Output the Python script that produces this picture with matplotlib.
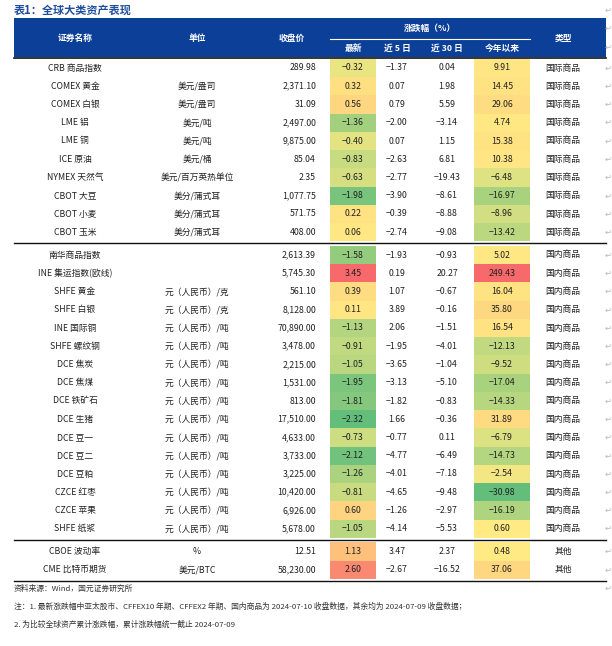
import numpy as np
import matplotlib.pyplot as plt
from matplotlib.colors import LinearSegmentedColormap, TwoSlopeNorm
from matplotlib.patches import Rectangle

plt.rcParams['font.family'] = ['Noto Sans CJK SC', 'DejaVu Sans']

title = "表1：全球大类资产表现"
names = ["CRB 商品指数", "COMEX 黄金", "COMEX 白银", "LME 铝", "LME 铜", "ICE 原油",
         "NYMEX 天然气", "CBOT 大豆", "CBOT 小麦", "CBOT 玉米",
         "南华商品指数", "INE 集运指数(欧线)", "SHFE 黄金", "SHFE 白银", "INE 国际铜",
         "SHFE 螺纹钢", "DCE 焦炭", "DCE 焦煤", "DCE 铁矿石", "DCE 生猪", "DCE 豆一",
         "DCE 豆二", "DCE 豆粕", "CZCE 红枣", "CZCE 苹果", "SHFE 纸浆",
         "CBOE 波动率", "CME 比特币期货"]
rmb = "元（人民币）/吨"
units = ["", "美元/盎司", "美元/盎司", "美元/吨", "美元/吨", "美元/桶", "美元/百万英热单位",
         "美分/蒲式耳", "美分/蒲式耳", "美分/蒲式耳",
         "", "", "元（人民币）/克", "元（人民币）/克", rmb, rmb, rmb, rmb, rmb, rmb, rmb,
         rmb, rmb, rmb, rmb, rmb,
         "%", "美元/BTC"]
close = [289.98, 2371.10, 31.09, 2497.00, 9875.00, 85.04, 2.35, 1077.75, 571.75, 408.00,
         2613.39, 5745.30, 561.10, 8128.00, 70890.00, 3478.00, 2215.00, 1531.00, 813.00,
         17510.00, 4633.00, 3733.00, 3225.00, 10420.00, 6926.00, 5678.00,
         12.51, 58230.00]
chg_last = [-0.32, 0.32, 0.56, -1.36, -0.40, -0.83, -0.63, -1.98, 0.22, 0.06,
            -1.58, 3.45, 0.39, 0.11, -1.13, -0.91, -1.05, -1.95, -1.81, -2.32, -0.73,
            -2.12, -1.26, -0.81, 0.60, -1.05,
            1.13, 2.60]
chg_5d = [-1.37, 0.07, 0.79, -2.00, 0.07, -2.63, -2.77, -3.90, -0.39, -2.74,
          -1.93, 0.19, 1.07, 3.89, 2.06, -1.95, -3.65, -3.13, -1.82, 1.66, -0.77,
          -4.77, -4.01, -4.65, -1.26, -4.14,
          3.47, -2.67]
chg_30d = [0.04, 1.98, 5.59, -3.14, 1.15, 6.81, -19.43, -8.61, -8.88, -9.08,
           -0.93, 20.27, -0.67, -0.16, -1.51, -4.01, -1.04, -5.10, -0.83, -0.36, 0.11,
           -6.49, -7.18, -9.48, -2.97, -5.53,
           2.37, -16.52]
chg_ytd = [9.91, 14.45, 29.06, 4.74, 15.38, 10.38, -6.48, -16.97, -8.96, -13.42,
           5.02, 249.43, 16.04, 35.80, 16.54, -12.13, -9.52, -17.04, -14.33, 31.89, -6.79,
           -14.73, -2.54, -30.98, -16.19, 0.60,
           0.48, 37.06]
groups = ["国际商品"] * 10 + ["国内商品"] * 16 + ["其他"] * 2
group_sizes = [10, 16, 2]
source = "资料来源：Wind，国元证券研究所"
note1 = ("注：1. 最新涨跌幅中亚太股市、CFFEX10 年期、CFFEX2 年期、国内商品为 2024-07-10 "
         "收盘数据，其余均为 2024-07-09 收盘数据；")
note2 = "2. 为比较全球资产累计涨跌幅，累计涨跌幅统一截止 2024-07-09"

W, H = 612, 646
fig = plt.figure(figsize=(W / 100, H / 100), dpi=100)
ax = fig.add_axes([0, 0, 1, 1])
ax.set_xlim(0, W)
ax.set_ylim(H, 0)
ax.axis('off')

cmap = LinearSegmentedColormap.from_list('scale', ['#63BE7B', '#FFEB84', '#F8696B'])

blue = '#0c3f98'
fs = 6.3
rowh = 18.25
gap = 4.5
y0 = 68
left, right = 14, 606
x_name, x_unit, x_close = 75, 197, 316
x_last, x_5d, x_30d, x_ytd, x_type = 353, 397, 447, 502, 563
cw_last, cw_ytd = (330, 376), (474, 530)
mark = '#b8b8b8'

# title
ax.text(left, 10, title, fontsize=8, fontweight='bold', color='#1f4e9c',
        va='center', ha='left', style='italic')

# header
ax.add_patch(Rectangle((left, 18), right - left, 39, color=blue, lw=0))
ax.plot([left, right], [57.5, 57.5], color='#111111', lw=1.2)
ax.plot([cw_last[0], cw_ytd[1]], [39, 39], color='white', lw=0.8)
hk = dict(fontsize=fs, color='white', fontweight='bold', va='center', ha='center')
ax.text(x_name, 38, "证券名称", **hk)
ax.text(x_unit, 38, "单位", **hk)
ax.text(292, 38, "收盘价", **hk)
ax.text(x_type, 38, "类型", **hk)
ax.text((cw_last[0] + cw_ytd[1]) / 2, 28, "涨跌幅（%）", **hk)
for xc, lab in zip([x_last, x_5d, x_30d, x_ytd], ["最新", "近 5 日", "近 30 日", "今年以来"]):
    ax.text(xc, 48, lab, **hk)
for yy in [10, 28, 47]:
    ax.text(608, yy, "↵", fontsize=6, color=mark, ha='center', va='center')

# row positions
ys = []
line_ys = []
i = 0
for g, n in enumerate(group_sizes):
    for k in range(n):
        ys.append(y0 + rowh * i + gap * g)
        i += 1
    line_ys.append(ys[-1] + 11)

norm_last = TwoSlopeNorm(vcenter=0, vmin=min(chg_last), vmax=max(chg_last))
norm_ytd = TwoSlopeNorm(vcenter=0, vmin=min(chg_ytd), vmax=max(chg_ytd))

tk = dict(fontsize=fs, color='#222222', va='center')
for r, y in enumerate(ys):
    top = y - rowh / 2
    ax.add_patch(Rectangle((cw_last[0], top), cw_last[1] - cw_last[0], rowh,
                           color=cmap(norm_last(chg_last[r])), lw=0))
    ax.add_patch(Rectangle((cw_ytd[0], top), cw_ytd[1] - cw_ytd[0], rowh,
                           color=cmap(norm_ytd(chg_ytd[r])), lw=0))
    ax.text(x_name, y, names[r], ha='center', **tk)
    ax.text(x_unit, y, units[r], ha='center', **tk)
    ax.text(x_close, y, f"{close[r]:,.2f}", ha='right', **tk)
    ax.text(x_last, y, f"{chg_last[r]:.2f}".replace('-', '−'), ha='center', **tk)
    ax.text(x_5d, y, f"{chg_5d[r]:.2f}".replace('-', '−'), ha='center', **tk)
    ax.text(x_30d, y, f"{chg_30d[r]:.2f}".replace('-', '−'), ha='center', **tk)
    ax.text(x_ytd, y, f"{chg_ytd[r]:.2f}".replace('-', '−'), ha='center', **tk)
    ax.text(x_type, y, groups[r], ha='center', **tk)
    ax.text(608, y, "↵", fontsize=6, color=mark, ha='center', va='center')

for ly in line_ys:
    ax.plot([left, right], [ly, ly], color='#111111', lw=1.0)
ax.text(608, line_ys[-1] + 8, "↵", fontsize=6, color=mark, ha='center', va='center')

fk = dict(fontsize=5.6, color='#333333', va='center', ha='left')
ax.text(left, 589, source, **fk)
ax.text(left, 607, note1, **fk)
ax.text(left, 625, note2, **fk)

fig.savefig('out.png', dpi=100)
